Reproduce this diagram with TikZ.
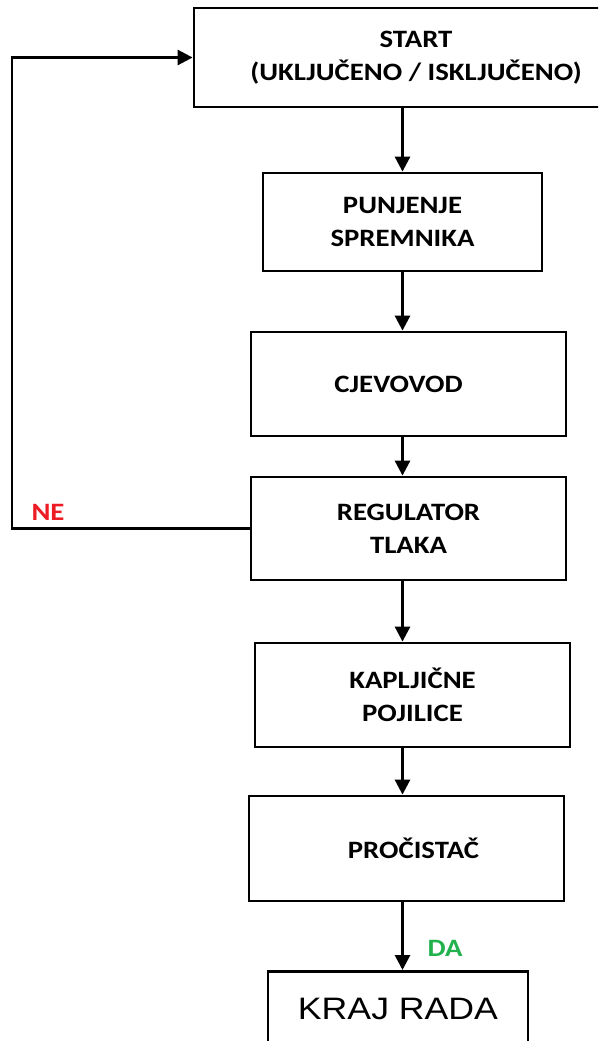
\documentclass[tikz,border=0pt]{standalone}
\usepackage{fontspec}
\setmainfont[FakeStretch=1.15]{Carlito}
\newfontfamily\krajfont[FakeStretch=1.15]{Liberation Sans}
\usetikzlibrary{arrows.meta, positioning}
\definecolor{neRed}{RGB}{237,28,36}
\definecolor{daGreen}{RGB}{34,177,76}

\begin{document}
\begin{tikzpicture}[x=1pt,y=-1pt,>={Triangle[length=15pt,width=15pt]},line width=2.8pt,
      every node/.style={font=\fontsize{25}{33}\selectfont\bfseries},
      block/.style={draw,rectangle,align=center,inner sep=0pt,minimum width=315pt,minimum height=104pt}]
      \useasboundingbox (0,0) rectangle (598,1041);
      \clip (0,0) rectangle (598,1041);
      \node[block, minimum width=444pt, minimum height=99pt] (start) at (416,57.5) {START\\(UKLJUČENO / ISKLJUČENO)};
      \node[block, minimum width=279pt, minimum height=98pt] (punj) at (402.5,222) {PUNJENJE\\SPREMNIKA};
      \node[block] (cjev) at (408.5,384) {CJEVOVOD\hspace*{20pt}};
      \node[block, minimum height=103pt] (reg) at (408.5,528.5) {REGULATOR\\TLAKA};
      \node[block] (kap) at (412.5,695) {KAPLJIČNE\\POJILICE};
      \node[block, minimum height=105pt] (pro) at (406.5,848.5) {\hspace*{14pt}PROČISTAČ};
      \node[block, minimum width=260pt, minimum height=76pt, anchor=north,
            font=\fontsize{31}{37}\selectfont\krajfont] (kraj) at (398,970) {KRAJ RADA};
      \node[text=neRed] (ne) at (48,512) {NE};
      \node[text=daGreen] (da) at (445,948) {DA};
      \coordinate (corner) at (12,533);
      \draw[->] (start.south -| punj.north) -- (punj.north);
      \draw[->] (punj.south) -- (punj.south |- cjev.north);
      \draw[->] (punj.south |- cjev.south) -- (punj.south |- reg.north);
      \draw[->] (punj.south |- reg.south) -- (punj.south |- kap.north);
      \draw[->] (punj.south |- kap.south) -- (punj.south |- pro.north);
      \draw[->] (punj.south |- pro.south) -- (punj.south |- kraj.north);
      \draw[->] (reg.west) -- (reg.west -| corner) |- (start.west);
    \end{tikzpicture}
\end{document}
